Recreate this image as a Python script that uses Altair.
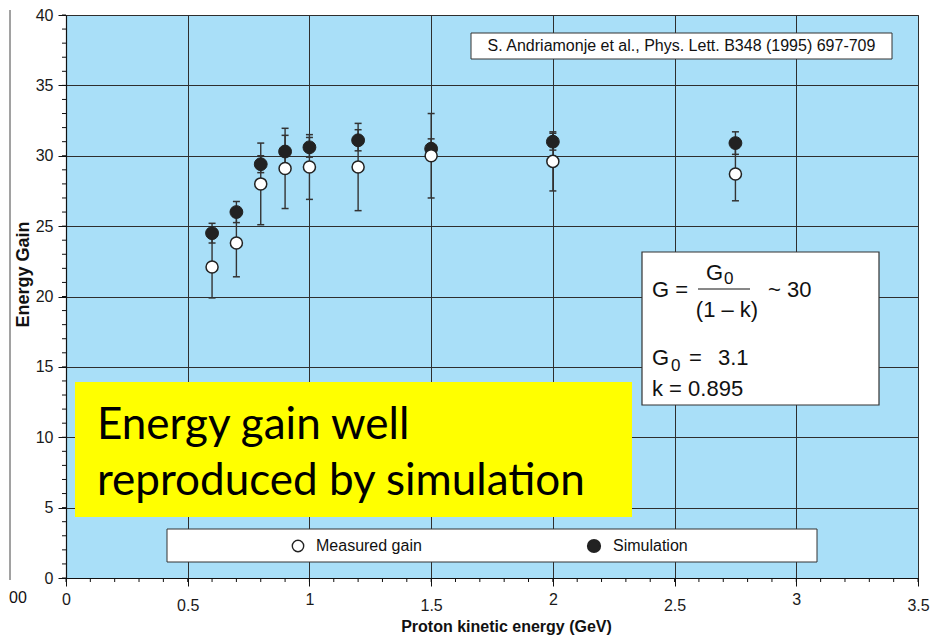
import altair as alt
import pandas as pd

# ---- data ----
energy = [0.6, 0.7, 0.8, 0.9, 1.0, 1.2, 1.5, 2.0, 2.75]
measured = [22.1, 23.8, 28.0, 29.1, 29.2, 29.2, 30.0, 29.6, 28.7]
measured_err = [2.2, 2.4, 2.9, 2.85, 2.3, 3.1, 3.0, 2.1, 1.9]
simulation = [24.5, 26.0, 29.4, 30.3, 30.6, 31.1, 30.5, 31.0, 30.9]
simulation_err = [0.7, 0.75, 0.6, 1.15, 0.7, 0.75, 0.7, 0.6, 0.8]

x_major = [0, 0.5, 1, 1.5, 2, 2.5, 3, 3.5]
y_major = [0, 5, 10, 15, 20, 25, 30, 35, 40]
x_minor = [round(i * 0.1, 1) for i in range(36)]
y_minor = list(range(41))

citation = "S. Andriamonje et al., Phys. Lett. B348 (1995) 697-709"
banner_lines = ["Energy gain well", "reproduced by simulation"]
legend_labels = ["Measured gain", "Simulation"]

# plot area placement (page pixels)
OX, OY = 66, 15          # top-left of plot area on the page
W, H = 852, 563
PAD_L, PAD_T = OX - 8, OY - 8

FONT = "Liberation Sans, Arial, Helvetica, sans-serif"
BANNER_FONT = "Lato, Carlito, Calibri, sans-serif"
GRID = "#2e2e2e"
INK = "#222222"


def px(x):
    return x - OX


def py(y):
    return y - OY


df = pd.DataFrame({
    "E": energy,
    "meas": measured,
    "meas_lo": [m - e for m, e in zip(measured, measured_err)],
    "meas_hi": [m + e for m, e in zip(measured, measured_err)],
    "sim": simulation,
    "sim_lo": [m - e for m, e in zip(simulation, simulation_err)],
    "sim_hi": [m + e for m, e in zip(simulation, simulation_err)],
})

x_scale = alt.Scale(domain=[0, 3.5], nice=False, zero=False)
y_scale = alt.Scale(domain=[0, 40], nice=False, zero=False)

x_axis = alt.Axis(
    values=x_major, format="~g", title="Proton kinetic energy (GeV)",
    grid=True, gridColor=GRID, gridWidth=1,
    domainColor="#111", domainWidth=1.2, tickColor="#111", tickSize=8, tickWidth=1,
    labelFont=FONT, labelFontSize=16, labelColor="#1a1a1a",
    labelPadding={"condition": {"test": "datum.value % 1 === 0", "value": 5}, "value": 11},
    labelFlush=False, labelOverlap=False,
    titleFont=FONT, titleFontSize=16, titleFontWeight="bold", titleColor="#111",
    titleX=px(506), titleY=631 - (OY + H), titleBaseline="alphabetic", titleAlign="center",
)
y_axis = alt.Axis(
    values=y_major, title="Energy Gain",
    grid=True, gridColor=GRID, gridWidth=1,
    domainColor="#111", domainWidth=1.2, tickColor="#111", tickSize=8, tickWidth=1,
    labelFont=FONT, labelFontSize=16, labelColor="#1a1a1a", labelPadding=5,
    labelFlush=False, labelOverlap=False,
    titleFont=FONT, titleFontSize=18, titleFontWeight="bold", titleColor="#111",
    titleAngle=270, titleX=px(28), titleY=py(274), titleBaseline="alphabetic", titleAlign="center",
)


def X(field):
    return alt.X(f"{field}:Q", scale=x_scale, axis=x_axis)


def Y(field):
    return alt.Y(f"{field}:Q", scale=y_scale, axis=y_axis)


base = alt.Chart(df)

# minor ticks
xminor = alt.Chart(pd.DataFrame({"E": x_minor})).mark_rule(color="#111", strokeWidth=1).encode(
    x=X("E"), y=alt.value(H), y2=alt.value(H + 4))
yminor = alt.Chart(pd.DataFrame({"G": y_minor})).mark_rule(color="#111", strokeWidth=1).encode(
    y=Y("G"), x=alt.value(-4), x2=alt.value(0))

# error bars
meas_bar = base.mark_rule(color="#333", strokeWidth=1.4).encode(x=X("E"), y=Y("meas_lo"), y2="meas_hi")
sim_bar = base.mark_rule(color="#333", strokeWidth=1.4).encode(x=X("E"), y=Y("sim_lo"), y2="sim_hi")
meas_caps = base.transform_fold(["meas_lo", "meas_hi"], as_=["k", "v"]).mark_tick(
    orient="horizontal", size=7, thickness=1.5, color="#333", opacity=1).encode(x=X("E"), y=Y("v"))
sim_caps = base.transform_fold(["sim_lo", "sim_hi"], as_=["k", "v"]).mark_tick(
    orient="horizontal", size=7, thickness=1.5, color="#333", opacity=1).encode(x=X("E"), y=Y("v"))

sim_pts = base.mark_point(shape="circle", filled=True, fill=INK, stroke=INK, strokeWidth=1,
                          size=165, opacity=1).encode(x=X("E"), y=Y("sim"))
meas_pts = base.mark_point(shape="circle", filled=True, fill="white", stroke=INK, strokeWidth=1.5,
                           size=145, opacity=1).encode(x=X("E"), y=Y("meas"))

one = pd.DataFrame({"a": [0]})


def box(x1, x2, y1, y2, fill, stroke=None, sw=1):
    kw = dict(fill=fill)
    if stroke:
        kw.update(stroke=stroke, strokeWidth=sw)
    else:
        kw.update(strokeWidth=0)
    return alt.Chart(one).mark_rect(**kw).encode(
        x=alt.value(px(x1)), x2=alt.value(px(x2)), y=alt.value(py(y1)), y2=alt.value(py(y2)))


def txt(s, x, y, size=16, align="left", baseline="alphabetic", font=FONT, weight="normal", color="#111"):
    return alt.Chart(one).mark_text(text=s, align=align, baseline=baseline, font=font,
                                    fontSize=size, fontWeight=weight, color=color).encode(
        x=alt.value(px(x)), y=alt.value(py(y)))


# citation box
cit_box = box(471, 892, 33, 59, "white", "#333", 1)
cit_txt = txt(citation, 681.5, 46, 16, align="center", baseline="middle")

# formula box
f_box = box(642, 879, 252, 405, "white", "#333", 1.2)
f_parts = [
    txt("G =", 652, 297, 22),
    txt("G", 706, 280, 22),
    txt("0", 724, 284, 17),
    alt.Chart(one).mark_rule(color="#111", strokeWidth=1).encode(
        x=alt.value(px(698)), x2=alt.value(px(750)), y=alt.value(py(289))),
    txt("(1 – k)", 727, 317, 22, align="center"),
    txt("~ 30", 768, 297, 22),
    txt("G", 652, 365, 22),
    txt("0", 671, 371, 17),
    txt("=", 689, 365, 22),
    txt("3.1", 718, 365, 22),
    txt("k = 0.895", 652, 396, 22),
]

# yellow banner
y_box = box(75, 632, 382, 517, "#ffff00")
y_txt = [txt(banner_lines[0], 97, 439, 44, font=BANNER_FONT, color="black"),
         txt(banner_lines[1], 97, 495, 44, font=BANNER_FONT, color="black")]

# legend box
l_box = box(167, 817, 529, 562, "white", "#333", 1)
l_open = alt.Chart(one).mark_point(shape="circle", filled=True, fill="white", stroke=INK,
                                   strokeWidth=1.4, size=130, opacity=1).encode(
    x=alt.value(px(298)), y=alt.value(py(546)))
l_fill = alt.Chart(one).mark_point(shape="circle", filled=True, fill=INK, stroke=INK,
                                   size=150, opacity=1).encode(x=alt.value(px(594)), y=alt.value(py(546)))
l_txt = [txt(legend_labels[0], 316, 546, 16, baseline="middle"),
         txt(legend_labels[1], 613, 546, 16, baseline="middle")]

# remnant of neighbouring panel at the left edge
rem_line = alt.Chart(one).mark_rule(color="#444", strokeWidth=1).encode(
    x=alt.value(px(10)), y=alt.value(py(10)), y2=alt.value(py(580)))
rem_txt = txt("00", 9, 598, 16, align="left", baseline="middle")

chart = alt.layer(
    xminor, yminor,
    meas_bar, sim_bar, meas_caps, sim_caps, sim_pts, meas_pts,
    cit_box, cit_txt, f_box, *f_parts, y_box, *y_txt,
    l_box, l_open, l_fill, *l_txt, rem_line, rem_txt,
).properties(
    width=W, height=H,
    autosize=alt.AutoSizeParams(type="none"),
    padding={"left": PAD_L, "top": PAD_T, "right": 12, "bottom": 60},
).configure_view(fill="#a9dff8", stroke="#555", strokeWidth=1)

chart.save("out.html", embed_options={"renderer": "svg", "actions": False})
